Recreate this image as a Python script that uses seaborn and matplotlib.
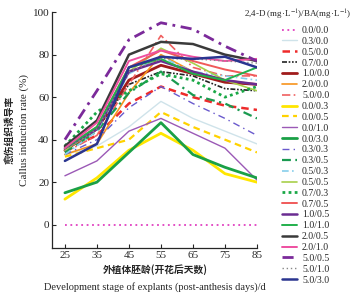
import pandas as pd
import matplotlib.pyplot as plt
import seaborn as sns

# Data
stages = [25, 35, 45, 55, 65, 75, 85]
labels = ['0.0/0.0', '0.3/0.0', '0.5/0.0', '0.7/0.0', '1.0/0.0', '2.0/0.0', '5.0/0.0',
          '0.0/0.3', '0.0/0.5', '0.0/1.0', '0.0/3.0', '0.3/0.3', '0.3/0.5', '0.5/0.3',
          '0.5/0.5', '0.7/0.3', '0.7/0.5', '1.0/0.5', '1.0/1.0', '2.0/0.5', '2.0/1.0',
          '5.0/0.5', '5.0/1.0', '5.0/3.0']
rates = [
    [0, 0, 0, 0, 0, 0, 0],
    [33, 37, 46, 58, 50, 44, 38],
    [35, 42, 57, 65, 60, 56, 54],
    [35, 45, 66, 72, 70, 64, 63],
    [35, 45, 68, 75, 71, 67, 66],
    [33, 38, 62, 80, 72, 68, 66],
    [34, 42, 66, 89, 74, 70, 70],
    [12, 22, 35, 43, 35, 24, 20],
    [32, 36, 40, 53, 46, 40, 34],
    [23, 30, 44, 50, 43, 36, 21],
    [15, 20, 34, 48, 33, 27, 22],
    [33, 40, 55, 65, 57, 50, 42],
    [34, 44, 62, 72, 61, 57, 50],
    [33, 44, 71, 79, 72, 70, 68],
    [35, 45, 72, 83, 76, 68, 63],
    [37, 53, 63, 71, 68, 60, 65],
    [36, 46, 74, 82, 77, 73, 70],
    [36, 45, 72, 77, 72, 68, 66],
    [36, 46, 74, 78, 71, 68, 74],
    [37, 49, 80, 86, 85, 80, 77],
    [36, 48, 77, 82, 79, 77, 78],
    [40, 63, 87, 95, 92, 84, 77],
    [35, 45, 72, 78, 78, 77, 76],
    [30, 38, 74, 79, 78, 79, 74],
]

# (colour, linestyle, linewidth) per series
styles = [
    ('#e040c0', (0, (1, 2)), 1.3),
    ('#cfe3ea', '-', 1.0),
    ('#ee2a2a', (0, (3, 2)), 1.8),
    ('#222222', (0, (3, 1, 1, 1, 1, 1)), 1.2),
    ('#a01c1c', '-', 2.0),
    ('#f7941d', '-', 1.2),
    ('#f06060', (0, (5, 2, 1, 2)), 1.2),
    ('#ffe600', '-', 2.0),
    ('#ffd200', (0, (3, 2)), 1.6),
    ('#9b59b6', '-', 1.0),
    ('#1aa046', '-', 2.0),
    ('#6a5acd', (0, (5, 3, 1, 3)), 1.0),
    ('#1a9a50', (0, (4, 2, 1, 2)), 1.6),
    ('#87ceeb', (0, (4, 2, 1, 2)), 1.2),
    ('#a8d04a', '-', 1.2),
    ('#1aa846', (0, (1, 1.2)), 2.0),
    ('#f05a5a', '-', 1.4),
    ('#6a2c91', '-', 1.8),
    ('#22b04c', '-', 1.4),
    ('#3a3a3a', '-', 1.8),
    ('#ee4fa0', '-', 1.4),
    ('#7b2a9a', (0, (4, 2, 1, 2)), 2.0),
    ('#888888', (0, (1, 2)), 1.0),
    ('#2a3590', '-', 1.8),
]

sns.set_style('ticks')
plt.rcParams['font.family'] = ['Liberation Serif', 'Noto Sans CJK SC']
plt.rcParams['mathtext.fontset'] = 'stix'

fig = plt.figure(figsize=(3.52, 2.96), dpi=100)
ax = fig.add_axes([0.148, 0.162, 0.582, 0.797])

for lab, vals, (c, ls, lw) in zip(labels, rates, styles):
    df = pd.DataFrame({'stage': stages, 'rate': vals})
    sns.lineplot(data=df, x='stage', y='rate', ax=ax, color=c, linestyle=ls,
                 linewidth=lw, label=lab, legend=False)

ax.set_xlim(21, 85)
ax.set_ylim(-11, 100)
ax.set_xticks(stages)
ax.set_yticks([0, 20, 40, 60, 80, 100])
ax.tick_params(direction='in', length=3, width=0.8, labelsize=8, pad=2)
for s in ['top', 'right']:
    ax.spines[s].set_visible(False)
for s in ['left', 'bottom']:
    ax.spines[s].set_linewidth(0.9)
ax.set_xlabel('')
ax.set_ylabel('')

# stacked bilingual axis labels
fig.text(0.027, 0.56, '愈伤组织诱导率', rotation=90, ha='center', va='center',
         fontsize=7, family='Noto Sans CJK SC', fontweight='bold')
fig.text(0.07, 0.56, 'Callus induction rate (%)', rotation=90, ha='center',
         va='center', fontsize=8)
fig.text(0.44, 0.088, '外植体胚龄(开花后天数)', ha='center', va='center',
         fontsize=7, family='Noto Sans CJK SC', fontweight='bold')
fig.text(0.44, 0.03, 'Development stage of explants (post-anthesis days)/d',
         ha='center', va='center', fontsize=7.5)

# legend title placed as its own text, entries below it
fig.text(0.847, 0.949, '2,4-D (mg·L$^{-1}$)/BA(mg·L$^{-1}$)', ha='center',
         va='center', fontsize=6.5)
handles, lbls = ax.get_legend_handles_labels()
fig.legend(handles, lbls, loc='upper left', bbox_to_anchor=(0.80, 0.912),
           fontsize=7, frameon=False, handlelength=1.6, handletextpad=0.5,
           labelspacing=0.19, borderaxespad=0, borderpad=0)

fig.savefig('out.png', dpi=100)
